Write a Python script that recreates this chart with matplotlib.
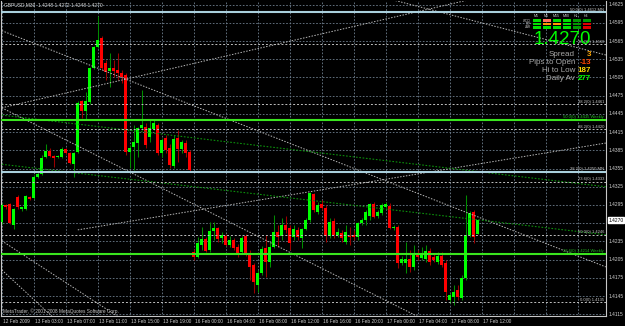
import matplotlib
matplotlib.use("Agg")
from matplotlib import pyplot as plt
from matplotlib.patches import Rectangle

W, H = 625, 326
FONT = ["Liberation Sans", "DejaVu Sans"]

# GBPUSD M30 candles, 12 Feb 23:00 .. 17 Feb 11:30 (2009)
opens = [1.4267, 1.4295, 1.4297, 1.4262, 1.4308, 1.4288, 1.4288, 1.4308, 1.4306, 1.4341,
         1.4346, 1.4374, 1.4384, 1.4376, 1.4374, 1.4374, 1.4387, 1.4381, 1.4362, 1.4382,
         1.4466, 1.4450, 1.4465, 1.4521, 1.4555, 1.4570, 1.4529, 1.4516, 1.4521, 1.4517,
         1.4512, 1.4509, 1.4382, 1.4391, 1.4397, 1.4422, 1.4423, 1.4407, 1.4420, 1.4427,
         1.4381, 1.4405, 1.4389, 1.4359, 1.4405, 1.4387, 1.4397, 1.4382, 1.4218, 1.4209,
         1.4229, 1.4239, 1.4221, 1.4252, 1.4257, 1.4241, 1.4244, 1.4229, 1.4237, 1.4226,
         1.4218, 1.4244, 1.4216, 1.4196, 1.4163, 1.4183, 1.4224, 1.4201, 1.4226, 1.4251,
         1.4244, 1.4262, 1.4257, 1.4242, 1.4254, 1.4241, 1.4255, 1.4270, 1.4313, 1.4283,
         1.4297, 1.4290, 1.4244, 1.4268, 1.4246, 1.4249, 1.4234, 1.4244, 1.4246, 1.4242,
         1.4265, 1.4270, 1.4277, 1.4297, 1.4277, 1.4282, 1.4292, 1.4293, 1.4257, 1.4259,
         1.4200, 1.4200, 1.4206, 1.4193, 1.4212, 1.4208, 1.4206, 1.4219, 1.4209, 1.4201,
         1.4211, 1.4200, 1.4139, 1.4144, 1.4155, 1.4142, 1.4175, 1.4246, 1.4283, 1.4248]
highs = [1.4298, 1.4297, 1.4298, 1.4290, 1.4311, 1.4292, 1.4311, 1.4310, 1.4344, 1.4349,
         1.4377, 1.4395, 1.4389, 1.4377, 1.4377, 1.4391, 1.4389, 1.4382, 1.4382, 1.4466,
         1.4468, 1.4481, 1.4522, 1.4557, 1.4606, 1.4573, 1.4534, 1.4545, 1.4534, 1.4545,
         1.4517, 1.4512, 1.4394, 1.4427, 1.4423, 1.4484, 1.4430, 1.4435, 1.4435, 1.4430,
         1.4405, 1.4410, 1.4395, 1.4410, 1.4418, 1.4402, 1.4402, 1.4386, 1.4223, 1.4242,
         1.4259, 1.4242, 1.4267, 1.4267, 1.4259, 1.4251, 1.4247, 1.4244, 1.4241, 1.4231,
         1.4244, 1.4247, 1.4221, 1.4200, 1.4188, 1.4227, 1.4246, 1.4234, 1.4279, 1.4262,
         1.4274, 1.4277, 1.4262, 1.4262, 1.4259, 1.4257, 1.4273, 1.4316, 1.4315, 1.4300,
         1.4303, 1.4295, 1.4274, 1.4274, 1.4257, 1.4254, 1.4262, 1.4259, 1.4254, 1.4267,
         1.4274, 1.4287, 1.4298, 1.4300, 1.4287, 1.4298, 1.4300, 1.4298, 1.4262, 1.4262,
         1.4211, 1.4234, 1.4221, 1.4229, 1.4221, 1.4226, 1.4229, 1.4224, 1.4214, 1.4218,
         1.4218, 1.4204, 1.4150, 1.4163, 1.4163, 1.4180, 1.4311, 1.4285, 1.4287, 1.4272]
lows = [1.4264, 1.4288, 1.4264, 1.4255, 1.4288, 1.4285, 1.4287, 1.4303, 1.4305, 1.4339,
        1.4344, 1.4372, 1.4374, 1.4358, 1.4372, 1.4372, 1.4379, 1.4362, 1.4341, 1.4381,
        1.4438, 1.4435, 1.4461, 1.4519, 1.4553, 1.4517, 1.4501, 1.4489, 1.4506, 1.4501,
        1.4496, 1.4377, 1.4356, 1.4353, 1.4374, 1.4418, 1.4389, 1.4399, 1.4418, 1.4377,
        1.4374, 1.4381, 1.4356, 1.4356, 1.4366, 1.4381, 1.4374, 1.4349, 1.4204, 1.4208,
        1.4221, 1.4218, 1.4218, 1.4237, 1.4234, 1.4232, 1.4227, 1.4226, 1.4221, 1.4209,
        1.4214, 1.4211, 1.4172, 1.4150, 1.4152, 1.4180, 1.4176, 1.4193, 1.4224, 1.4226,
        1.4237, 1.4249, 1.4221, 1.4237, 1.4237, 1.4224, 1.4254, 1.4267, 1.4283, 1.4280,
        1.4287, 1.4234, 1.4241, 1.4241, 1.4242, 1.4234, 1.4231, 1.4229, 1.4237, 1.4237,
        1.4262, 1.4262, 1.4270, 1.4273, 1.4273, 1.4279, 1.4290, 1.4255, 1.4254, 1.4191,
        1.4196, 1.4183, 1.4185, 1.4188, 1.4204, 1.4204, 1.4201, 1.4196, 1.4201, 1.4198,
        1.4193, 1.4139, 1.4134, 1.4130, 1.4139, 1.4139, 1.4172, 1.4242, 1.4232, 1.4248]
closes = [1.4295, 1.4291, 1.4265, 1.4288, 1.4291, 1.4291, 1.4310, 1.4305, 1.4341, 1.4346,
          1.4372, 1.4384, 1.4376, 1.4372, 1.4376, 1.4387, 1.4381, 1.4364, 1.4381, 1.4463,
          1.4450, 1.4466, 1.4521, 1.4555, 1.4567, 1.4521, 1.4514, 1.4521, 1.4516, 1.4512,
          1.4506, 1.4382, 1.4389, 1.4399, 1.4422, 1.4427, 1.4394, 1.4422, 1.4430, 1.4381,
          1.4402, 1.4386, 1.4361, 1.4404, 1.4387, 1.4399, 1.4381, 1.4353, 1.4209, 1.4232,
          1.4239, 1.4219, 1.4252, 1.4257, 1.4239, 1.4246, 1.4229, 1.4237, 1.4224, 1.4216,
          1.4241, 1.4216, 1.4193, 1.4168, 1.4183, 1.4223, 1.4201, 1.4226, 1.4251, 1.4242,
          1.4262, 1.4254, 1.4232, 1.4255, 1.4242, 1.4255, 1.4270, 1.4315, 1.4287, 1.4295,
          1.4290, 1.4244, 1.4267, 1.4246, 1.4251, 1.4241, 1.4251, 1.4242, 1.4242, 1.4265,
          1.4270, 1.4283, 1.4297, 1.4275, 1.4283, 1.4295, 1.4297, 1.4257, 1.4259, 1.4200,
          1.4206, 1.4206, 1.4193, 1.4214, 1.4209, 1.4216, 1.4219, 1.4201, 1.4204, 1.4211,
          1.4196, 1.4152, 1.4147, 1.4152, 1.4144, 1.4175, 1.4246, 1.4282, 1.4242, 1.4270]

# time axis labels, one every 8 bars
time_labels = ["12 Feb 2009", "13 Feb 03:00", "13 Feb 07:00", "13 Feb 11:00", "13 Feb 15:00",
               "13 Feb 19:00", "16 Feb 00:00", "16 Feb 04:00", "16 Feb 08:00", "16 Feb 12:00",
               "16 Feb 16:00", "16 Feb 20:00", "17 Feb 00:00", "17 Feb 04:00", "17 Feb 08:00",
               "17 Feb 12:00"]
price_levels = [1.4115 + 0.003 * k for k in range(18)]
bid = 1.4270

# fibo levels (price, label)
fib_dotted = [(1.4560, "38.2(0) 1.4560"), (1.4461, "38.2(0) 1.4461"), (1.4420, "38.2(0) 1.4420"),
              (1.4333, "23.6(0) 1.4333"), (1.4246, "50.0(0) 1.4246"), (1.4135, "0.0(0) 1.4135")]
fib_weekly = [(1.4435, "50.0(0) 1.4435 Weekly"), (1.4214, "23.6(0) 1.4214 Weekly")]
fib_monthly = [(1.4612, "50.0(0) 1.4612 MN"), (1.4350, "38.2(0) 1.4350 MN")]

# trend lines: (bar indexes, prices)
trend_gray = [([0, 151], [1.4582, 1.4193]),
              ([0, 151], [1.4455, 1.4685]),
              ([0, 151], [1.4455, 1.3956]),
              ([97, 151], [1.4634, 1.4542]),
              ([19, 151], [1.4254, 1.4397]),
              ([0, 151], [1.4236, 1.3587]),
              ([0, 25], [1.4188, 1.4036])]
trend_green = [([0, 151], [1.4443, 1.4325]),
               ([0, 151], [1.4362, 1.4246])]

# info panel
signal_tfs = ["M1", "M5", "M15", "M30", "H1", "H4"]
signal_rows = ["WCCI", "TTF", "ZNR"]
signal_colors = [["#00e000", "#ff7060", "#00e000", "#00e000", "#009900", "#009900"],
                 ["#00e000", "#ff9900", "#ff9900", "#00e000", "#009900", "#e00000"],
                 ["#00e000", "#00e000", "#00e000", "#00e000", "#009900", "#e00000"]]
info_labels = ["Spread", "Pips to Open", "Hi to Low", "Daily Av"]
info_values = ["3", "-13", "187", "277"]
info_colors = ["#ffa500", "#ff4500", "#ffd700", "#00ff00"]

fig = plt.figure(figsize=(W / 100, H / 100), dpi=100, facecolor="black")
ax = fig.add_axes([1 / W, 10 / H, 605 / W, 315 / H])
ax.set_facecolor("black")
ax.set_xlim(-0.2, 151.05)
ax.set_ylim(1.41122, 1.46309)
ax.set_xticks([])
ax.set_yticks([])
for side in ["left", "right", "bottom"]:
    ax.spines[side].set_color("#c8c8c8")
    ax.spines[side].set_linewidth(0.8)
ax.spines["top"].set_visible(False)

grid_kw = dict(color="#6f7f8f", linewidth=0.6, linestyle=(0, (2, 2)), zorder=1)
ax.hlines(price_levels, -1, 152, **grid_kw)
ax.vlines([8 * k for k in range(19)], 1.40, 1.47, **grid_kw)

# candles
n = len(opens)
bars = list(range(n))
up = [c >= o for o, c in zip(opens, closes)]
wick_cols = ["#008c00" if u else "#9a0000" for u in up]
body_cols = ["#00ff00" if u else "#ff0000" for u in up]
ax.vlines(bars, lows, highs, colors=wick_cols, linewidth=0.75, zorder=2)
bottoms = [min(o, c) for o, c in zip(opens, closes)]
heights = [max(abs(c - o), 0.00012) for o, c in zip(opens, closes)]
ax.bar(bars, heights, bottom=bottoms, width=0.68, color=body_cols, linewidth=0, zorder=3)

# trend lines
for xs, ys in trend_gray:
    ax.plot(xs, ys, color="#b8b8b8", linewidth=0.7, linestyle=(0, (1.5, 1.5)), zorder=4)
for xs, ys in trend_green:
    ax.plot(xs, ys, color="#0c8f0c", linewidth=0.8, linestyle=(0, (1.5, 1.5)), zorder=4)

ytr = ax.get_yaxis_transform()
for p, lab in fib_dotted:
    ax.axhline(p, color="#bfbfbf", linewidth=0.7, linestyle=(0, (2, 2)), zorder=4)
    ax.text(0.997, p + 0.00008, lab, transform=ytr, ha="right", va="bottom",
            fontsize=3.0, color="#c8c8c8", family=FONT, zorder=6)
for p, lab in fib_weekly:
    ax.axhline(p, color="#3ae41e", linewidth=1.5, zorder=5)
    ax.text(0.997, p + 0.00012, lab, transform=ytr, ha="right", va="bottom",
            fontsize=3.0, color="#22b822", family=FONT, zorder=6)
for p, lab in fib_monthly:
    ax.axhline(p, color="#a9cfdc", linewidth=1.5, zorder=5)
    ax.text(0.997, p + 0.00012, lab, transform=ytr, ha="right", va="bottom",
            fontsize=3.0, color="#c8c8c8", family=FONT, zorder=6)

# price scale
for p in price_levels:
    if abs(p - bid) < 0.0012:
        continue
    ax.text(1.005, p, f"{p:.4f}", transform=ytr, ha="left", va="center",
            fontsize=3.5, color="#d0d0d0", family=FONT, clip_on=False)
ax.text(1.004, bid, f"{bid:.4f}", transform=ytr, ha="left", va="center",
        fontsize=3.5, color="black", family=FONT, clip_on=False,
        bbox=dict(facecolor="white", edgecolor="white", pad=0.5))

# time scale
xtr = ax.get_xaxis_transform()
for k, lab in enumerate(time_labels):
    ax.text(8 * k + 0.2, -0.016, lab, transform=xtr, ha="left", va="center",
            fontsize=3.4, color="#d0d0d0", family=FONT, clip_on=False)


def ftext(x, y, s, **kw):
    fig.text(x / W, 1 - y / H, s, family=FONT, **kw)


ftext(4, 5, "GBPUSD,M30  1.4248 1.4272 1.4248 1.4270", fontsize=3.5, color="#d8d8d8",
      va="center")
ftext(3, 311, "MetaTrader, \u00a9 2001-2008 MetaQuotes Software Corp.", fontsize=3.4,
      color="#c8c8c8", va="center")

# signal matrix
for j, tf in enumerate(signal_tfs):
    ftext(536.5 + 9.9 * j, 16, tf, fontsize=2.6, color="#d0d0d0", ha="center", va="center")
for r, name in enumerate(signal_rows):
    ftext(531, 20.6 + 3.4 * r, name, fontsize=2.2, color="#d0d0d0", ha="right", va="center")
    for j in range(len(signal_tfs)):
        fig.add_artist(Rectangle(((533 + 9.9 * j) / W, 1 - (22 + 3.4 * r) / H), 8 / W, 2.6 / H,
                                 transform=fig.transFigure, facecolor=signal_colors[r][j],
                                 edgecolor="none"))

ftext(591, 40, f"{bid:.4f}", fontsize=13.5, color="#00ff00", ha="right", va="center")
for k, (lab, val, col) in enumerate(zip(info_labels, info_values, info_colors)):
    yy = 55 + 7.8 * k
    ftext(575, yy, lab, fontsize=5.8, color="#a8a8a8", ha="right", va="center")
    ftext(591, yy, val, fontsize=5.8, color=col, ha="right", va="center", fontweight="bold")

fig.savefig("out.png", dpi=100, facecolor="black")
